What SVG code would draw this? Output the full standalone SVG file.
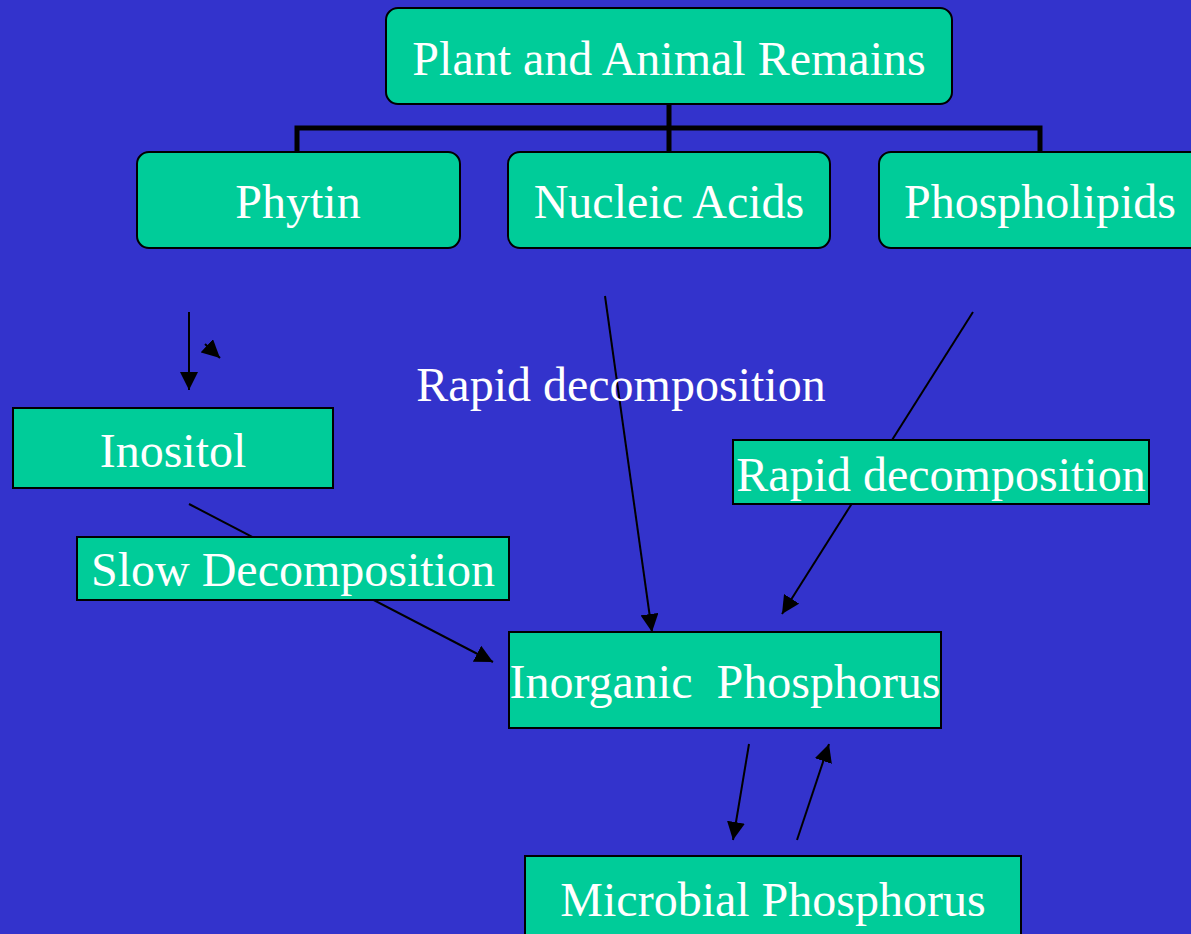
<svg xmlns="http://www.w3.org/2000/svg" width="1191" height="934" viewBox="0 0 1191 934">
<style>
.node{fill:#00CC99;stroke:#000;stroke-width:2}
.t{font-family:"Liberation Serif","Times New Roman",serif;font-size:48px;fill:#fff;text-anchor:middle}
.c{stroke:#000;stroke-width:2;fill:none}
.tree{stroke:#000;stroke-width:5;fill:none}
</style>
<defs>
<marker id="a" viewBox="0 0 10 10" refX="10" refY="5" markerWidth="9" markerHeight="9" orient="auto">
<path d="M0,0 L10,5 L0,10 z" fill="#000"/>
</marker>
</defs>
<rect width="1191" height="934" fill="#3333CC"/>
<g id="connectors">
<path class="tree" d="M669,104 V128 M297,152 V128 H1040 V152 M669,128 V152"/>
<line class="c" x1="189" y1="312" x2="189" y2="390" marker-end="url(#a)"/>
<line class="c" x1="205" y1="344" x2="220" y2="358" marker-end="url(#a)"/>
<line class="c" x1="605" y1="296" x2="652" y2="632" marker-end="url(#a)"/>
<line class="c" x1="973" y1="312" x2="782" y2="614" marker-end="url(#a)"/>
<line class="c" x1="189" y1="504" x2="493" y2="662" marker-end="url(#a)"/>
<line class="c" x1="749" y1="744" x2="733" y2="840" marker-end="url(#a)"/>
<line class="c" x1="797" y1="840" x2="829" y2="744" marker-end="url(#a)"/>
</g>
<g id="n-remains"><rect class="node" x="386" y="8" width="566" height="96" rx="12"/><text class="t" x="669" y="75">Plant and Animal Remains</text></g>
<g id="n-phytin"><rect class="node" x="137" y="152" width="323" height="96" rx="12"/><text class="t" x="298" y="218">Phytin</text></g>
<g id="n-nucleic"><rect class="node" x="508" y="152" width="322" height="96" rx="12"/><text class="t" x="669" y="218">Nucleic Acids</text></g>
<g id="n-phospholipids"><rect class="node" x="879" y="152" width="330" height="96" rx="12"/><text class="t" x="1040" y="218">Phospholipids</text></g>
<g id="label-rapid1"><text class="t" x="621" y="401">Rapid decomposition</text></g>
<g id="n-inositol"><rect class="node" x="13" y="408" width="320" height="80"/><text class="t" x="173" y="467">Inositol</text></g>
<g id="label-rapid2"><rect class="node" x="733" y="440" width="416" height="64"/><text class="t" x="941" y="491">Rapid decomposition</text></g>
<g id="label-slow"><rect class="node" x="77" y="537" width="432" height="63"/><text class="t" x="293" y="586">Slow Decomposition</text></g>
<g id="n-inorganic"><rect class="node" x="509" y="632" width="432" height="96"/><text class="t" x="725" y="698" xml:space="preserve">Inorganic  Phosphorus</text></g>
<g id="n-microbial"><rect class="node" x="525" y="856" width="496" height="90"/><text class="t" x="773" y="916">Microbial Phosphorus</text></g>
</svg>
